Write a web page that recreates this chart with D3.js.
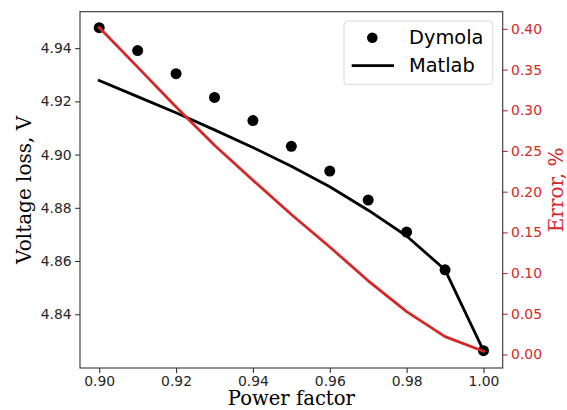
<!DOCTYPE html>
<html>
<head>
<meta charset="utf-8">
<script src="https://cdn.jsdelivr.net/npm/d3@7"></script>
<style>
  html, body { margin: 0; padding: 0; background: #fff; }
  svg { display: block; }
</style>
</head>
<body>
<svg id="chart" width="567" height="410"></svg>
<script>
// ---- Data ----
const powerFactor = [0.90, 0.91, 0.92, 0.93, 0.94, 0.95, 0.96, 0.97, 0.98, 0.99, 1.00];
const dymola = [4.9477, 4.9391, 4.9304, 4.9215, 4.9128, 4.9031, 4.8938, 4.8829, 4.8709, 4.8567, 4.8263];
const matlab = [4.9278, 4.9218, 4.9157, 4.9093, 4.9027, 4.8956, 4.8879, 4.8791, 4.8694, 4.8567, 4.8263];
const errorPct = [0.4016, 0.353, 0.304, 0.257, 0.214, 0.172, 0.132, 0.0905, 0.0526, 0.022, 0.004];
const xTicks = [0.90, 0.92, 0.94, 0.96, 0.98, 1.00];
const yLeftTicks = [4.84, 4.86, 4.88, 4.90, 4.92, 4.94];
const yRightTicks = [0.00, 0.05, 0.10, 0.15, 0.20, 0.25, 0.30, 0.35, 0.40];

// ---- Layout ----
const L = 80, R = 502.7, T = 11.7, B = 368;
const RED = "#d62728";
const svg = d3.select("#chart");

const x = d3.scaleLinear().domain([0.895, 1.005]).range([L, R]);
const yL = d3.scaleLinear().domain([4.8198, 4.9537]).range([B, T]);
const yR = d3.scaleLinear().domain([-0.0166, 0.42108]).range([B, T]);

const tickFont = "DejaVu Sans, sans-serif";
const labelFont = "DejaVu Serif, serif";

// axes
const xAxis = d3.axisBottom(x).tickValues(xTicks).tickFormat(d3.format(".2f")).tickSizeOuter(0).tickSize(4.9).tickPadding(3.5);
const yAxisL = d3.axisLeft(yL).tickValues(yLeftTicks).tickFormat(d3.format(".2f")).tickSizeOuter(0).tickSize(4.9).tickPadding(3.5);
const yAxisR = d3.axisRight(yR).tickValues(yRightTicks).tickFormat(d3.format(".2f")).tickSizeOuter(0).tickSize(4.9).tickPadding(3.5);

function styleAxis(g, color, textColor) {
  g.select(".domain").remove();
  g.selectAll(".tick line").attr("stroke", color).attr("stroke-width", 1.1);
  g.selectAll(".tick text").attr("fill", textColor).style("font-family", tickFont).style("font-size", "13.9px");
}

const gx = svg.append("g").attr("transform", `translate(0,${B})`).call(xAxis);
styleAxis(gx, "#333", "#262626");
const gyl = svg.append("g").attr("transform", `translate(${L},0)`).call(yAxisL);
styleAxis(gyl, "#333", "#262626");
const gyr = svg.append("g").attr("transform", `translate(${R},0)`).call(yAxisR);
styleAxis(gyr, RED, RED);

// legend (ax1, drawn before twin axis content)
const legend = svg.append("g");
legend.append("rect").attr("x", 344).attr("y", 21).attr("width", 148.7).attr("height", 63.3)
  .attr("rx", 3).attr("fill", "#fff").attr("fill-opacity", 0.8).attr("stroke", "#d9d9d9").attr("stroke-width", 1);
legend.append("circle").attr("cx", 372.3).attr("cy", 37.7).attr("r", 5.3).attr("fill", "#000");
legend.append("line").attr("x1", 351.7).attr("x2", 394).attr("y1", 65.7).attr("y2", 65.7).attr("stroke", "#000").attr("stroke-width", 2.8);
legend.append("text").attr("x", 409).attr("y", 37.7).attr("dy", "0.35em").text("Dymola")
  .style("font-family", tickFont).style("font-size", "19.4px").attr("fill", "#000");
legend.append("text").attr("x", 409).attr("y", 65.7).attr("dy", "0.35em").text("Matlab")
  .style("font-family", tickFont).style("font-size", "19.4px").attr("fill", "#000");

// Matlab line
const idx = d3.range(powerFactor.length);
svg.append("path").datum(idx)
  .attr("d", d3.line().x(i => x(powerFactor[i])).y(i => yL(matlab[i])))
  .attr("fill", "none").attr("stroke", "#000").attr("stroke-width", 2.8).attr("stroke-linejoin", "round").attr("stroke-linecap", "square");

// Dymola points
svg.append("g").selectAll("circle").data(idx).join("circle")
  .attr("cx", i => x(powerFactor[i])).attr("cy", i => yL(dymola[i])).attr("r", 5.5).attr("fill", "#000");

// Error line (twin axis, on top)
svg.append("path").datum(idx)
  .attr("d", d3.line().x(i => x(powerFactor[i])).y(i => yR(errorPct[i])))
  .attr("fill", "none").attr("stroke", RED).attr("stroke-width", 2.8).attr("stroke-linejoin", "round").attr("stroke-linecap", "square");

// frame
svg.append("rect").attr("x", L).attr("y", T).attr("width", R - L).attr("height", B - T)
  .attr("fill", "none").attr("stroke", "#333").attr("stroke-width", 1.1);

// axis labels
svg.append("text").attr("x", (L + R) / 2).attr("y", 404.5).attr("text-anchor", "middle").text("Power factor")
  .style("font-family", labelFont).style("font-size", "19.6px").attr("fill", "#000");
svg.append("text").attr("transform", `translate(31,${(T + B) / 2}) rotate(-90)`).attr("text-anchor", "middle").text("Voltage loss, V")
  .style("font-family", labelFont).style("font-size", "20px").attr("fill", "#000");
svg.append("text").attr("transform", `translate(563,${(T + B) / 2}) rotate(-90)`).attr("text-anchor", "middle").text("Error, %")
  .style("font-family", labelFont).style("font-size", "20px").attr("fill", RED);
</script>
</body>
</html>
